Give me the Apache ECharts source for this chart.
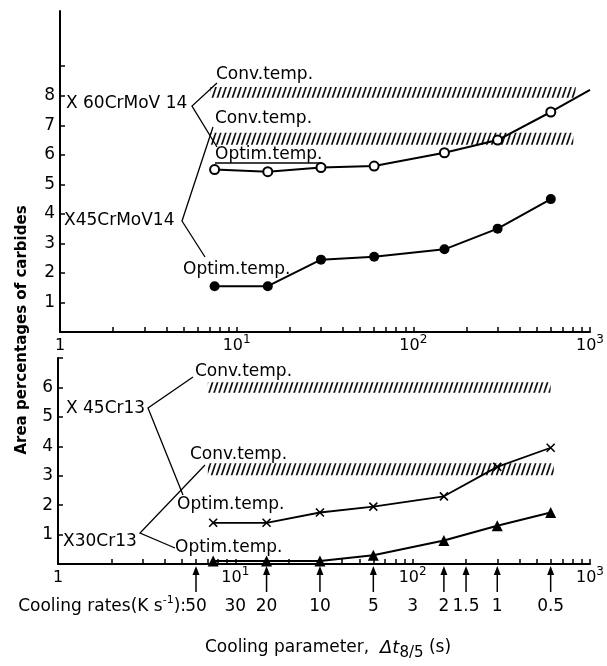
<!DOCTYPE html>
<html>
<head>
<meta charset="utf-8">
<script src="https://cdn.jsdelivr.net/npm/echarts@6/dist/echarts.min.js"></script>
<style>
  html, body { margin: 0; padding: 0; background: #fff; }
  #chart { width: 607px; height: 666px; }
</style>
</head>
<body>
<div id="chart"></div>
<script>
  // cooling parameter dt8/5 (s) of the measured points
  const dt = [7.5, 15, 30, 60, 150, 300, 600]
  // upper panel: X60CrMoV14 and X45CrMoV14 at optimum temperature
  const x60Optim = [5.5, 5.43, 5.57, 5.62, 6.07, 6.5, 7.45]
  const x60TailDt = [600, 1000]
  const x60Tail = [7.45, 8.2]
  const x45MoOptim = [1.55, 1.55, 2.45, 2.55, 2.8, 3.5, 4.5]
  // lower panel: X45Cr13 and X30Cr13 at optimum temperature
  const x45Cr13Optim = [1.4, 1.4, 1.75, 1.95, 2.3, 3.3, 3.95]
  const x30Cr13Optim = [0.1, 0.1, 0.1, 0.3, 0.8, 1.3, 1.75]
  // conventional temperature bands: [dt from, dt to, low %, high %]
  const x60Conv = [7.1, 830, 7.93, 8.3]
  const x45MoConv = [7.1, 805, 6.34, 6.75]
  const x45Cr13Conv = [7.0, 600, 5.82, 6.18]
  const x30Cr13Conv = [7.0, 625, 3.02, 3.42]
  // axes
  const decadeLabels = [1, 10, 100, 1000]
  const logTicks = [2, 3, 4, 5, 6, 7, 8, 9, 10, 20, 30, 40, 50, 60, 70, 80, 90, 100,
    200, 300, 400, 500, 600, 700, 800, 900, 1000]
  const topYLabels = [1, 2, 3, 4, 5, 6, 7, 8]
  const topYTicks = [1, 2, 3, 4, 5, 6, 7, 8, 9]
  const botYLabels = [1, 2, 3, 4, 5, 6]
  const botYTicks = [1, 2, 3, 4, 5, 6, 7]
  // cooling rates (K/s) shown under the lower axis, dt8/5 = 300 / rate
  const rateLabels = [50, 30, 20, 10, 5, 3, 2, 1.5, 1, 0.5]
  const rateArrows = [50, 20, 10, 5, 2, 1.5, 1, 0.5]

  const FONT = 'DejaVu Sans'

  function pairs(xs, ys) {
    return xs.map((x, i) => [x, ys[i]])
  }
  function band(b) {
    return [{coord: [b[0], b[2]]}, {coord: [b[1], b[3]]}]
  }
  function hatch() {
    const c = document.createElement('canvas')
    c.width = 5
    c.height = 15
    const ctx = c.getContext('2d')
    ctx.strokeStyle = '#111'
    ctx.lineWidth = 1.7
    for (let k = -1; k <= 1; k++) {
      ctx.beginPath()
      ctx.moveTo(k * 5, 15)
      ctx.lineTo(k * 5 + 5, 0)
      ctx.stroke()
    }
    return c
  }
  const hatchFill = {image: hatch(), repeat: 'repeat'}

  function xAxisFor(gridIndex) {
    return {
      type: 'log', gridIndex: gridIndex, min: 1, max: 1000, logBase: 10,
      axisLine: {lineStyle: {color: '#000', width: 2}},
      axisTick: {inside: true, length: 5, customValues: logTicks, lineStyle: {color: '#000', width: 1.5}},
      splitLine: {show: false},
      axisLabel: {
        customValues: decadeLabels, color: '#000', fontSize: 16, margin: 2, fontFamily: FONT,
        formatter: v => v === 1 ? '{base|1}' : '{base|10}{sup|' + Math.round(Math.log10(v)) + '}',
        rich: {
          base: {fontSize: 16, lineHeight: 24, fontFamily: FONT, color: '#000'},
          sup: {fontSize: 12, lineHeight: 13, verticalAlign: 'top', fontFamily: FONT, color: '#000'}
        }
      }
    }
  }
  function yAxisFor(gridIndex, max, labels, ticks) {
    return {
      type: 'value', gridIndex: gridIndex, min: 0, max: max,
      axisLine: {show: true, lineStyle: {color: '#000', width: 2}},
      axisTick: {show: true, inside: true, length: 5, customValues: ticks, lineStyle: {color: '#000', width: 1.5}},
      splitLine: {show: false},
      axisLabel: {customValues: labels, color: '#000', fontSize: 17, margin: 5, fontFamily: FONT}
    }
  }

  const lineBase = {
    type: 'line', lineStyle: {color: '#000', width: 2}, z: 5
  }

  const option = {
    animation: false,
    backgroundColor: '#fff',
    textStyle: {fontFamily: FONT},
    grid: [
      {left: 60, right: 2, top: 11, height: 321},
      {left: 58, right: 2, top: 358, height: 206}
    ],
    xAxis: [
      xAxisFor(0),
      xAxisFor(1),
      {
        type: 'log', gridIndex: 1, min: 1, max: 1000, position: 'bottom',
        axisLine: {show: false}, axisTick: {show: false}, splitLine: {show: false},
        axisLabel: {
          customValues: rateLabels.map(r => 300 / r), color: '#000', fontSize: 17, margin: 34, fontFamily: FONT,
          formatter: v => String(+(300 / v).toFixed(2))
        }
      }
    ],
    yAxis: [
      yAxisFor(0, 10.87, topYLabels, topYTicks),
      yAxisFor(1, 7, botYLabels, botYTicks)
    ],
    series: [
      Object.assign({}, lineBase, {
        name: 'X60CrMoV14 optim', xAxisIndex: 0, yAxisIndex: 0,
        data: pairs(dt, x60Optim),
        symbol: 'emptyCircle', symbolSize: 9,
        itemStyle: {color: '#000', borderWidth: 1.5}
      }),
      Object.assign({}, lineBase, {
        name: 'X60CrMoV14 trend', xAxisIndex: 0, yAxisIndex: 0,
        data: pairs(x60TailDt, x60Tail), symbol: 'none', z: 4
      }),
      Object.assign({}, lineBase, {
        name: 'X45CrMoV14 optim', xAxisIndex: 0, yAxisIndex: 0,
        data: pairs(dt, x45MoOptim),
        symbol: 'circle', symbolSize: 10,
        itemStyle: {color: '#000'},
        markArea: {
          silent: true, z: 2,
          label: {show: false},
          itemStyle: {color: hatchFill, opacity: 1},
          data: [band(x60Conv), band(x45MoConv)]
        }
      }),
      Object.assign({}, lineBase, {
        name: 'X45Cr13 optim', xAxisIndex: 1, yAxisIndex: 1,
        data: pairs(dt, x45Cr13Optim),
        symbol: 'path://M0,0L10,10M10,0L0,10', symbolSize: 8,
        itemStyle: {color: '#000', borderColor: '#000', borderWidth: 1.6},
        lineStyle: {color: '#000', width: 1.8}
      }),
      Object.assign({}, lineBase, {
        name: 'X30Cr13 optim', xAxisIndex: 1, yAxisIndex: 1,
        data: pairs(dt, x30Cr13Optim),
        symbol: 'triangle', symbolSize: 11,
        itemStyle: {color: '#000'},
        markArea: {
          silent: true, z: 2,
          label: {show: false},
          itemStyle: {color: hatchFill, opacity: 1},
          data: [band(x45Cr13Conv), band(x30Cr13Conv)]
        }
      })
    ]
  }

  const chart = echarts.init(document.getElementById('chart'), null, {renderer: 'canvas'})
  chart.setOption(option)

  function txt(text, x, y, extra) {
    return {
      type: 'text', z: 10,
      style: Object.assign({
        text: text, x: x, y: y, fill: '#000', font: '17px "' + FONT + '"',
        textAlign: 'left', textVerticalAlign: 'middle', align: 'left', verticalAlign: 'middle'
      }, extra || {})
    }
  }
  function leader(points) {
    return {type: 'polyline', z: 10, shape: {points: points}, style: {stroke: '#000', lineWidth: 1.3, fill: null}}
  }

  const graphics = [
    // upper panel annotations
    txt('X 60CrMoV 14', 66, 104),
    txt('X45CrMoV14', 64, 221),
    txt('Conv.temp.', 216, 75),
    txt('Conv.temp.', 215, 119),
    txt('Optim.temp.', 215, 155),
    txt('Optim.temp.', 183, 270),
    leader([[217, 83], [192, 106], [217, 147]]),
    leader([[213, 127], [182, 221], [205, 257]]),
    leader([[215, 163], [322, 163]]),
    // lower panel annotations
    txt('X 45Cr13', 66, 409),
    txt('X30Cr13', 63, 542),
    txt('Conv.temp.', 195, 372),
    txt('Conv.temp.', 190, 455),
    txt('Optim.temp.', 177, 505),
    txt('Optim.temp.', 175, 548),
    leader([[193, 377], [148, 408], [183, 495]]),
    leader([[205, 465], [140, 533], [175, 548]]),
    // cooling rate caption
    {
      type: 'text', z: 10,
      style: {
        text: '{b|Cooling rates(K s}{sup|-1}{b|):}', x: 186, y: 607, fill: '#000',
        font: '17px "' + FONT + '"', textAlign: 'right', textVerticalAlign: 'middle',
        align: 'right', verticalAlign: 'middle',
        rich: {
          b: {fontSize: 17, lineHeight: 24, fontFamily: FONT},
          sup: {fontSize: 11, lineHeight: 13, verticalAlign: 'top', fontFamily: FONT}
        }
      }
    },
    // x axis title
    {
      type: 'text', z: 10,
      style: {
        text: '{b|Cooling parameter,  }{it|Δt}{sub|8/5}{b| (s)}', x: 328, y: 648, fill: '#000',
        font: '17px "' + FONT + '"', textAlign: 'center', textVerticalAlign: 'middle',
        align: 'center', verticalAlign: 'middle',
        rich: {
          b: {fontSize: 17, lineHeight: 26, fontFamily: FONT},
          it: {fontSize: 18, lineHeight: 26, fontStyle: 'italic', fontFamily: FONT},
          sub: {fontSize: 15, lineHeight: 15, verticalAlign: 'bottom', fontFamily: FONT}
        }
      }
    },
    // y axis title
    {
      type: 'text', z: 10, x: 22, y: 330, rotation: Math.PI / 2,
      style: {
        text: 'Area percentages of carbides', x: 0, y: 0, fill: '#000',
        font: 'bold 15px "' + FONT + '"', textAlign: 'center', textVerticalAlign: 'middle',
        align: 'center', verticalAlign: 'middle'
      }
    }
  ]

  // arrows pointing to the cooling rates on the lower axis
  rateArrows.forEach(r => {
    const px = chart.convertToPixel({xAxisIndex: 1}, 300 / r)
    graphics.push({type: 'line', z: 10, shape: {x1: px, y1: 592, x2: px, y2: 572}, style: {stroke: '#000', lineWidth: 1.5}})
    graphics.push({type: 'polygon', z: 10, shape: {points: [[px, 566], [px - 3.5, 575], [px + 3.5, 575]]}, style: {fill: '#000'}})
  })

  chart.setOption({graphic: graphics})
</script>
</body>
</html>
